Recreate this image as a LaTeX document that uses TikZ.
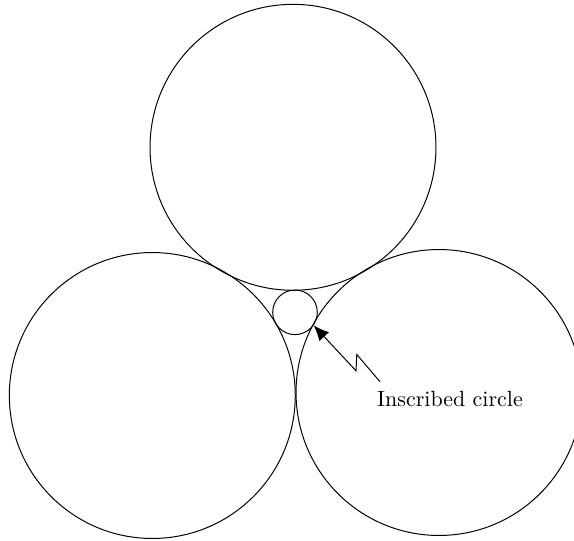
\documentclass[tikz,border=0pt]{standalone}
\usetikzlibrary{arrows.meta}
\begin{document}
\begin{tikzpicture}[x=0.455pt,y=-0.455pt,
  big/.style={circle,draw,line width=0.45pt,inner sep=0pt,minimum size=130.1pt},
  small/.style={circle,draw,line width=0.45pt,inner sep=0pt,minimum size=20.3pt},
  pointer/.style={line width=0.45pt,-{Latex[length=7pt,width=6pt]}}]
\useasboundingbox (0,0) rectangle (574,541);
\node[big] (top) at (293,147.3) {};
\node[big] (left) at (152.3,395.5) {};
\node[big] (right) at (439,392.5) {};
\node[small] (inc) at (295,312.3) {};
\node[anchor=base,inner sep=0pt] (lab) at (450,406.5) {Inscribed circle};
\coordinate (tail) at (380,381.7);
\coordinate (zu) at (356.8,354.5);
\coordinate (zl) at (356,370.8);
\draw[pointer] (tail) -- (zu) -- (zl) -- (inc.-35);
\end{tikzpicture}
\end{document}
